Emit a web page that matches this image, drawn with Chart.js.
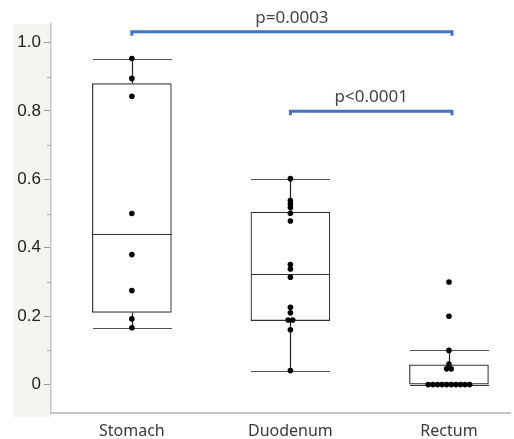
<!DOCTYPE html>
<html>
<head>
<meta charset="utf-8">
<script src="https://cdn.jsdelivr.net/npm/chart.js@4"></script>
<style>
  html, body { margin: 0; padding: 0; background: #fff; }
</style>
</head>
<body>
<canvas id="boxChart" width="514" height="439"></canvas>
<script>
// values
const categories = ['Stomach', 'Duodenum', 'Rectum'];
const stomachValues = [0.953, 0.895, 0.843, 0.50, 0.38, 0.275, 0.192, 0.166];
const duodenumValues = [0.602, 0.538, 0.528, 0.518, 0.501, 0.478, 0.351, 0.338, 0.314, 0.226, 0.21, 0.189, 0.189, 0.16, 0.041];
const rectumValues = [0.30, 0.20, 0.10, 0.06, 0.046, 0.046, 0, 0, 0, 0, 0, 0, 0, 0, 0, 0];

const whiskerHigh = [0.951, 0.602, 0.101];
const upperQuartile = [0.88, 0.504, 0.058];
const medians = [0.439, 0.324, 0];
const lowerQuartile = [0.211, 0.187, 0];
const whiskerLow = [0.166, 0.041, 0];

const comparisonFrom = [0, 1];
const comparisonTo = [2, 2];
const comparisonLabels = ['p=0.0003', 'p<0.0001'];
const comparisonLevels = [1.031, 0.799];

const BOX_WIDTH = 79;
const DOT_GAP = 0.029; // horizontal spread for tied values (x units)

// beeswarm-ish: spread equal values side by side
function buildPoints() {
    const points = [];
    [stomachValues, duodenumValues, rectumValues].forEach((vals, i) => {
        const counts = {};
        vals.forEach(v => { counts[v] = (counts[v] || 0) + 1; });
        const seen = {};
        vals.forEach(v => {
            const k = seen[v] || 0;
            seen[v] = k + 1;
            points.push({ x: i + 1 + (k - (counts[v] - 1) / 2) * DOT_GAP, y: v });
        });
    });
    return points;
}

const decorPlugin = {
    id: 'decor',
    beforeDraw(chart) {
        const { ctx, chartArea } = chart;
        ctx.save();
        ctx.fillStyle = '#f4f4f0';
        ctx.fillRect(13, chartArea.top, chartArea.left - 13, chartArea.bottom + 4 - chartArea.top);
        ctx.restore();
    },
    afterDatasetDraw(chart, args) {
        if (args.index !== 1) return;
        const { ctx } = chart;
        const xs = chart.scales.x, ys = chart.scales.y;
        const half = BOX_WIDTH / 2;
        ctx.save();
        categories.forEach((c, i) => {
            const cx = Math.round(xs.getPixelForValue(i + 1)) + 0.5;
            // whiskers
            ctx.strokeStyle = '#222';
            ctx.lineWidth = 1.2;
            ctx.beginPath();
            ctx.moveTo(cx, ys.getPixelForValue(upperQuartile[i]));
            ctx.lineTo(cx, ys.getPixelForValue(whiskerHigh[i]));
            ctx.moveTo(cx, ys.getPixelForValue(lowerQuartile[i]));
            ctx.lineTo(cx, ys.getPixelForValue(whiskerLow[i]));
            ctx.stroke();
            // caps
            ctx.strokeStyle = '#555';
            ctx.lineWidth = 1;
            ctx.beginPath();
            [whiskerHigh[i], whiskerLow[i]].forEach(v => {
                const y = Math.round(ys.getPixelForValue(v)) + 0.5;
                ctx.moveTo(cx - half, y);
                ctx.lineTo(cx + half, y);
            });
            ctx.stroke();
            // median
            ctx.strokeStyle = '#333';
            ctx.beginPath();
            const my = Math.round(ys.getPixelForValue(medians[i])) + 0.5;
            ctx.moveTo(cx - half, my);
            ctx.lineTo(cx + half, my);
            ctx.stroke();
        });
        ctx.restore();
    },
    afterDraw(chart) {
        const { ctx, chartArea } = chart;
        const xs = chart.scales.x, ys = chart.scales.y;
        ctx.save();
        // minor ticks on y axis
        ctx.strokeStyle = '#aaa';
        ctx.lineWidth = 1;
        ys.ticks.forEach(t => {
            if (Math.round(t.value * 10) % 2 === 0) return;
            const y = Math.round(ys.getPixelForValue(t.value)) + 0.5;
            ctx.beginPath();
            ctx.moveTo(chartArea.left - 4, y);
            ctx.lineTo(chartArea.left, y);
            ctx.stroke();
        });
        // significance brackets
        comparisonLabels.forEach((label, i) => {
            const x1 = xs.getPixelForValue(comparisonFrom[i] + 1);
            const x2 = xs.getPixelForValue(comparisonTo[i] + 1) + 3;
            const y = ys.getPixelForValue(comparisonLevels[i]);
            ctx.strokeStyle = '#4472c4';
            ctx.lineWidth = 3;
            ctx.lineCap = 'butt';
            ctx.beginPath();
            ctx.moveTo(x1, y + 4);
            ctx.lineTo(x1, y);
            ctx.lineTo(x2, y);
            ctx.lineTo(x2, y + 4);
            ctx.stroke();
            ctx.fillStyle = '#444';
            ctx.font = '17px "Noto Sans"';
            ctx.textAlign = 'center';
            ctx.textBaseline = 'alphabetic';
            ctx.fillText(label, (x1 + x2) / 2, y - 9);
        });
        ctx.restore();
    }
};

new Chart(document.getElementById('boxChart').getContext('2d'), {
    type: 'bar',
    data: {
        datasets: [{
            type: 'scatter',
            data: buildPoints(),
            backgroundColor: '#000',
            borderColor: '#000',
            pointRadius: 2.8,
            pointBorderWidth: 0
        }, {
            type: 'bar',
            data: categories.map((c, i) => ({ x: i + 1, y: [lowerQuartile[i], upperQuartile[i]] })),
            backgroundColor: '#fff',
            borderColor: '#333',
            borderWidth: 1.2,
            borderSkipped: false,
            barThickness: BOX_WIDTH
        }]
    },
    options: {
        responsive: false,
        animation: false,
        layout: { padding: { left: 13, top: 24, right: 0, bottom: 0 } },
        plugins: { legend: { display: false }, tooltip: { enabled: false } },
        scales: {
            x: {
                type: 'linear',
                offset: false,
                min: 0.49,
                max: 3.385,
                afterBuildTicks(scale) {
                    scale.ticks = categories.map((c, i) => ({ value: i + 1 }));
                },
                afterFit(scale) { scale.height = 26; },
                grid: { display: false, drawTicks: false },
                border: { color: '#c4c4c4', width: 2 },
                ticks: {
                    padding: 9,
                    color: '#3a3a3a',
                    font: { family: 'Noto Sans', size: 16 },
                    callback: v => categories[Math.round(v) - 1]
                }
            },
            y: {
                min: -0.083,
                max: 1.054,
                afterFit(scale) { scale.width = 38; },
                grid: {
                    drawOnChartArea: false,
                    tickLength: 7,
                    tickColor: c => (Math.round(c.tick.value * 10) % 2 === 0 ? '#999' : 'rgba(0,0,0,0)')
                },
                border: { color: '#c4c4c4', width: 1.5 },
                ticks: {
                    stepSize: 0.1,
                    includeBounds: false,
                    padding: 3,
                    color: '#222',
                    font: { family: 'Liberation Sans', size: 17 },
                    callback: v => {
                        const t = Math.round(v * 10);
                        if (t % 2 !== 0) return '';
                        return t === 0 ? '0' : (t / 10).toFixed(1);
                    }
                }
            }
        }
    },
    plugins: [decorPlugin]
});
</script>
</body>
</html>
